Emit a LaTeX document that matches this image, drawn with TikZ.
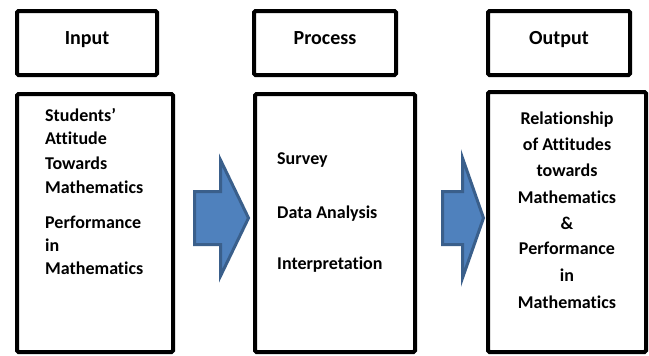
\documentclass[tikz,border=0pt]{standalone}
\usepackage{fontspec}
\setmainfont{Carlito}[Ligatures=NoCommon]
\definecolor{arrowfill}{HTML}{4F81BD}
\definecolor{arrowline}{HTML}{3A5F8B}
\begin{document}
\begin{tikzpicture}[x=1pt,y=-1pt,
  box/.style={draw=black,line width=4pt,rounded corners=1.5pt,minimum width=#1,inner sep=0pt},
  hdrtxt/.style={font=\fontsize{20}{24}\selectfont\bfseries,anchor=base,inner sep=0pt},
  bodytxt/.style={font=\fontsize{18}{22}\selectfont\bfseries,anchor=base west,inner sep=0pt},
  ctrtxt/.style={font=\fontsize{18}{22}\selectfont\bfseries,anchor=base,inner sep=0pt},
  bigarrow/.style={fill=arrowfill,draw=arrowline,line width=3pt,line join=miter}]
\useasboundingbox (0,0) rectangle (649,356);
% header boxes
\node[box=140pt,minimum height=64pt] (inh) at (87,43) {};
\node[box=142pt,minimum height=64pt] (prh) at (325,43) {};
\node[box=142pt,minimum height=64pt] (ouh) at (559,43) {};
\node[hdrtxt] (inht) at (87,44) {Input};
\node[hdrtxt] (prht) at (325,44) {Process};
\node[hdrtxt] (ouht) at (559,44) {Output};
% main boxes
\node[box=156pt,minimum height=258pt] (inb) at (95,223) {};
\node[box=160pt,minimum height=258pt] (prb) at (335,223) {};
\node[box=158pt,minimum height=260pt] (oub) at (567,222) {};
% input text
\foreach \t/\y [count=\i] in {Students’/121,Attitude/144,Towards/169,Mathematics/193,Performance/228,in/251,Mathematics/274}
  \node[bodytxt] (int\i) at (45,\y) {\t};
% process text
\foreach \t/\y [count=\i] in {Survey/164,Data Analysis/218,Interpretation/269}
  \node[bodytxt] (prt\i) at (277,\y) {\t};
% output text
\foreach \t/\y [count=\i] in {Relationship/124,of Attitudes/150,towards/176,Mathematics/203,\&/229,Performance/254,in/281,Mathematics/308}
  \node[ctrtxt] (out\i) at (567,\y) {\t};
% arrows
\draw[bigarrow] (194.5,191.5) -- (220.5,191.5) -- (220.5,160) -- (248.5,218) -- (220.5,276) -- (220.5,244.5) -- (194.5,244.5) -- cycle;
\draw[bigarrow] (442.5,191.5) -- (462.5,191.5) -- (462.5,158) -- (483.5,218) -- (462.5,278) -- (462.5,244.5) -- (442.5,244.5) -- cycle;
\end{tikzpicture}
\end{document}
